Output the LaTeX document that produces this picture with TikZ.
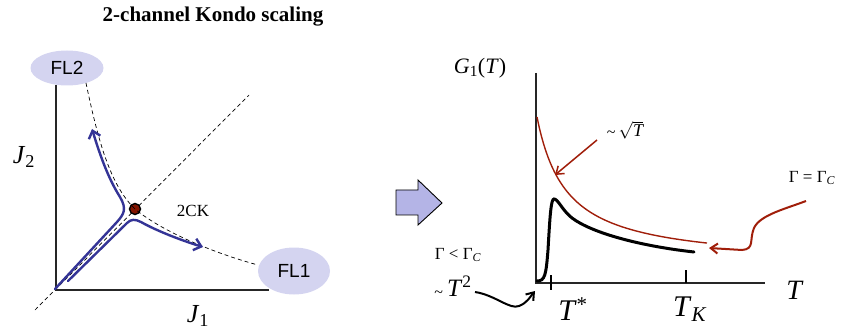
\documentclass[tikz,border=0pt]{standalone}
\usepackage{fontspec}
\setmainfont{Liberation Serif}
\newfontfamily\sansf{Liberation Sans}
\usetikzlibrary{shapes.geometric,arrows.meta}
\definecolor{flfill}{RGB}{212,212,240}
\definecolor{flowblue}{RGB}{52,52,150}
\definecolor{curvered}{RGB}{160,30,10}
\definecolor{arrowfill}{RGB}{180,180,230}
\definecolor{fpred}{RGB}{130,20,0}
\newcommand{\fs}[1]{\fontsize{#1}{#1}\selectfont}
\newcommand{\smtilde}{\raisebox{-0.12ex}{\fs{16}\textasciitilde}\,}
\begin{document}
\begin{tikzpicture}[x=1pt,y=-1pt,
  flpt/.style={ellipse, fill=flfill, inner sep=0pt, font=\sansf\fs{19}},
  axisline/.style={line width=1.6pt, black!85},
  dsh/.style={line width=0.7pt, dash pattern=on 4pt off 3pt},
  flow/.style={line width=2.4pt, flowblue, line cap=round, line join=round, -{Straight Barb[length=7pt,width=12pt]}},
  lbl/.style={inner sep=0pt},
  redarrow/.style={curvered, -{Straight Barb[length=7pt,width=10pt]}},
  tick/.style={line width=1.6pt}
]
\useasboundingbox (0,0) rectangle (843,331);

% ---------- left panel ----------
\node[lbl, font=\bfseries\fs{21}] (title) at (213,17) {2-channel Kondo scaling};

\coordinate (O) at (56,290);
\coordinate (Ytop) at (56,85);
\coordinate (Xend) at (269,290);
\draw[axisline] (Ytop) -- (O) -- (Xend);

\node[lbl, font=\fs{26}] (J2) at (24,157) {\textit{J}\textsubscript{2}};
\node[lbl, font=\fs{26}] (J1) at (198,316) {\textit{J}\textsubscript{1}};

\coordinate (dA) at (35,310);
\coordinate (dB) at (249,95);
\draw[dsh] (dA) -- (dB);

\node[flpt, minimum width=73pt, minimum height=35pt] (FL2) at (67,68) {FL2};
\node[flpt, minimum width=72pt, minimum height=47pt] (FL1) at (294,271) {FL1};

\node[circle, draw=black, line width=1.4pt, fill=fpred, minimum size=11pt, inner sep=0pt] (fp) at (135,209) {};
\node[lbl, font=\fs{17}] (ck) at (193,211) {2CK};

\coordinate (s2) at (86,83);
\coordinate (s1) at (258,265);
\draw[dsh] (s2) .. controls (98,140) and (110,185) .. (fp.center)
           .. controls (160,230) and (210,252) .. (s1);

% blue flows
\coordinate (b1s) at (55,289);
\coordinate (b1e) at (92,129);
\draw[flow] (b1s) -- (117,222) .. controls (124,214) and (127,209) .. (120,197)
            .. controls (108,178) and (100,155) .. (b1e);
\coordinate (b2s) at (68,281);
\coordinate (b2e) at (203,247);
\draw[flow] (b2s) -- (127,223) .. controls (131,219) and (135,219) .. (141,222)
            .. controls (155,230) and (180,240) .. (b2e);

% ---------- big arrow ----------
\draw[fill=arrowfill, line width=0.9pt, line join=miter]
  (396,190) -- (418,190) -- (418,180) -- (442,203) -- (418,225) -- (418,215) -- (396,215) -- cycle;

% ---------- right panel ----------
\coordinate (Gtop) at (536,73);
\coordinate (G0) at (536,283);
\coordinate (Tend) at (765,283);
\draw[axisline] (Gtop) -- (G0) -- (Tend);
\draw[tick] (551,275) -- (551,290);
\draw[tick] (686,270) -- (686,283);

\node[lbl, font=\fs{22}] (G) at (480,68) {\textit{G}\textsubscript{1}(\textit{T})};
\node[lbl, font=\fs{28}] (Tlab) at (795,290) {\textit{T}};
\node[lbl, font=\fs{30}] (Tstar) at (573,309) {\textit{T}\textsuperscript{*}};
\node[lbl, font=\fs{30}] (TK) at (690,309) {\textit{T}\textsubscript{\textit{K}}};

% red curve
\draw[curvered, line width=1.4pt] plot[domain=537:707, samples=80] (\x, {265-4381/(\x-507.4)});
% black curve
\draw[line width=3pt, line cap=round] (537,281) .. controls (545,281) and (546,275) .. (548,250)
   .. controls (550,215) and (551,199) .. (554,199)
   .. controls (558,199) and (562,210) .. (572,218)
   .. controls (592,233) and (640,246) .. (694,252);

% labels with arrows
\node[lbl, font=\fs{18}] (sq) at (625,130) {\smtilde$\sqrt{\mathit{T}}$};
\coordinate (sqs) at (597,140);
\coordinate (sqe) at (555,175);
\draw[redarrow, line width=1.5pt] (sqs) -- (sqe);

\node[lbl, font=\fs{17}] (gc) at (812,178) {Γ = Γ\textsubscript{\textit{C}}};
\coordinate (gcs) at (806,201);
\coordinate (gce) at (709,248);
\draw[redarrow, line width=2pt] (gcs) .. controls (785,209) and (760,215) .. (754,228)
   .. controls (749,240) and (755,249) .. (742,250) -- (gce);

\node[lbl, font=\fs{17}] (gl) at (458,255) {Γ < Γ\textsubscript{\textit{C}}};
\node[lbl, font=\fs{25}] (t2) at (453,287) {\smtilde\textit{T}\textsuperscript{2}};
\coordinate (t2s) at (475,292);
\coordinate (t2e) at (535,291);
\draw[line width=2pt, -{Straight Barb[length=7pt,width=10pt]}] (t2s) .. controls (495,295) and (510,310) .. (519,306)
   .. controls (527,303) and (530,297) .. (t2e);
\end{tikzpicture}
\end{document}
